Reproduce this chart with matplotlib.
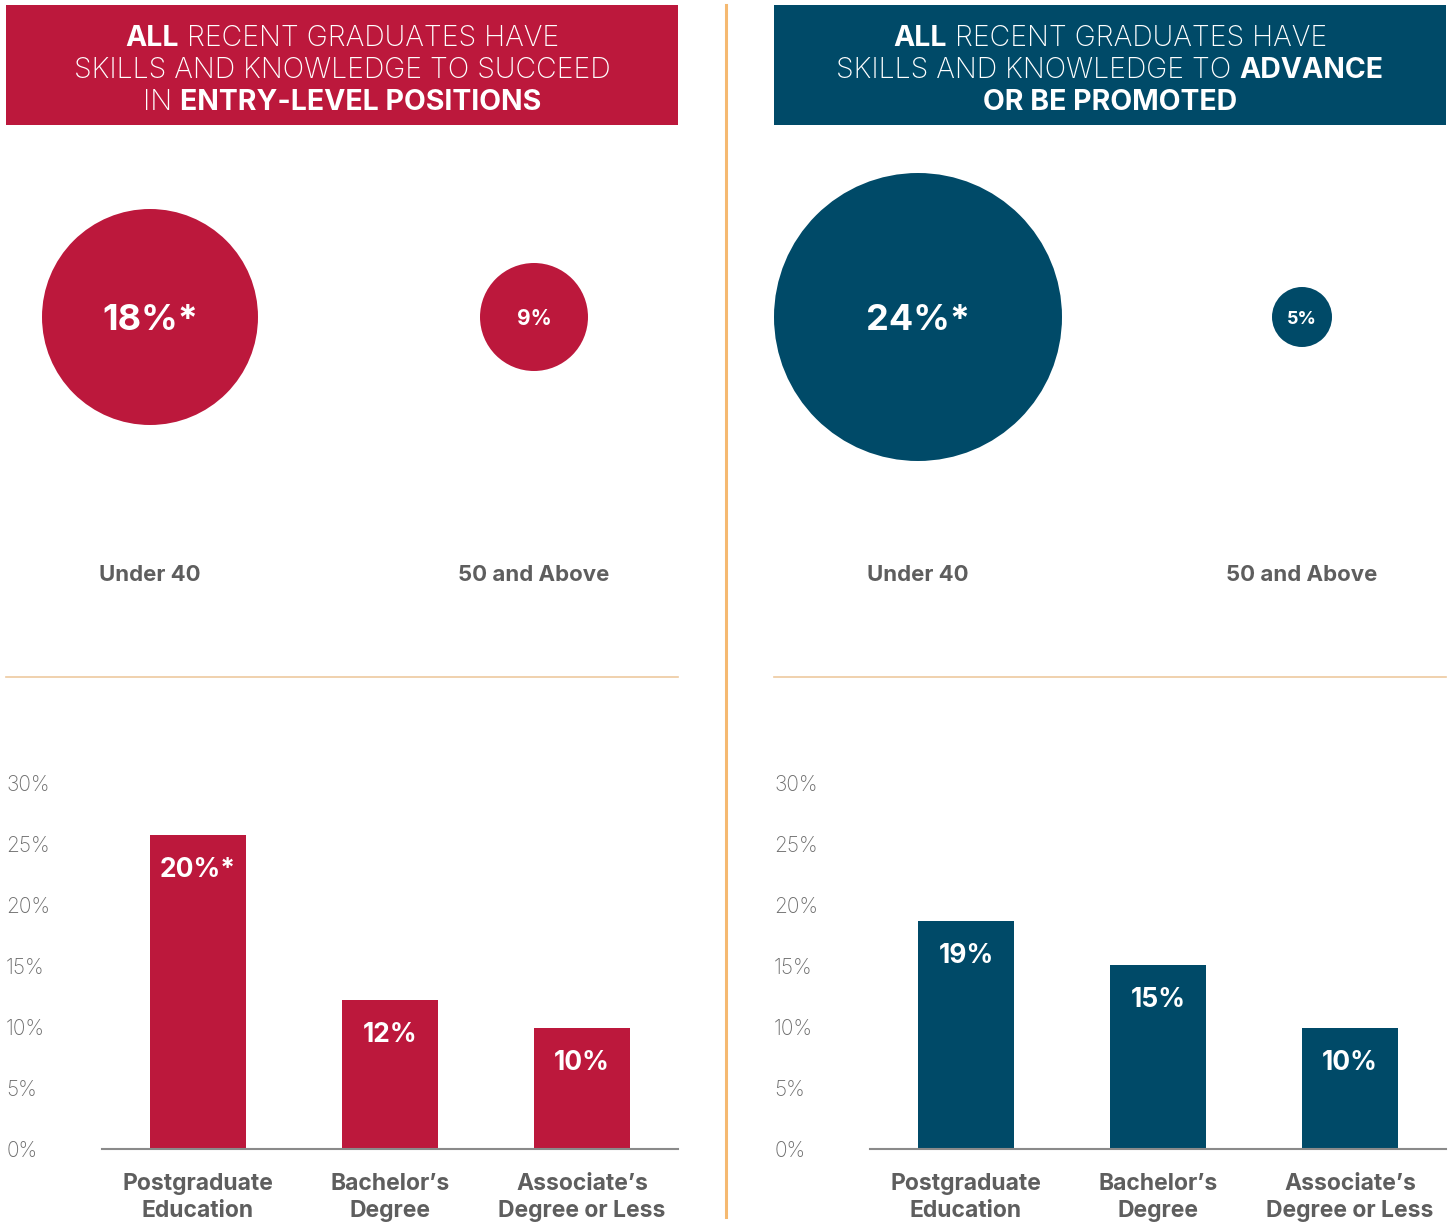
import matplotlib
matplotlib.use('Agg')
import matplotlib.pyplot as plt

# ---- data ----
age_groups = ['Under 40', '50 and Above']
entry_age = [18, 9]
entry_age_labels = ['18%*', '9%']
advance_age = [24, 5]
advance_age_labels = ['24%*', '5%']

education = ['Postgraduate\nEducation', 'Bachelor\u2019s\nDegree',
             'Associate\u2019s\nDegree or Less']
entry_edu = [25.7, 12.2, 9.9]
entry_edu_labels = ['20%*', '12%', '10%']
advance_edu = [18.7, 15.1, 9.9]
advance_edu_labels = ['19%', '15%', '10%']

yticks = [0, 5, 10, 15, 20, 25, 30]

RED = '#BC183C'
BLUE = '#004A68'
GREY = '#5E5E5E'
TICK_GREY = '#6E6E6E'
FAMILY = ['Inter', 'DejaVu Sans']

W, H = 1452, 1222
fig = plt.figure(figsize=(W / 100, H / 100), dpi=100)
fig.patch.set_facecolor('white')


def px_axes(x0, y0, x1, y1):
    """Axes placed by pixel box (top-left origin)."""
    return fig.add_axes([x0 / W, 1 - y1 / H, (x1 - x0) / W, (y1 - y0) / H])


def header_line(segments, xc, yc, size):
    # segments: list of (text, bold); drawn centred around xc (pixels)
    renderer = fig.canvas.get_renderer()
    texts = []
    for s, bold in segments:
        t = fig.text(0, 1 - yc / H, s, color='white', fontsize=size,
                     family=FAMILY, fontweight='bold' if bold else 'light',
                     ha='left', va='center_baseline')
        texts.append(t)
    widths = [t.get_window_extent(renderer).width for t in texts]
    x = xc - sum(widths) / 2
    for t, w in zip(texts, widths):
        t.set_x(x / W)
        x += w


def panel(x0, color, lines, circ_vals, circ_labels, bar_vals, bar_labels):
    x1 = x0 + 672
    # header box
    hax = px_axes(x0, 5, x1, 125)
    hax.set_facecolor(color)
    hax.set_xticks([])
    hax.set_yticks([])
    for sp in hax.spines.values():
        sp.set_visible(False)
    xc = (x0 + x1) / 2
    for i, segs in enumerate(lines):
        header_line(segs, xc, 36 + 32 * i, 20.5)

    # bubbles: radius 6 px per percentage point
    cax = px_axes(x0, 130, x1, 504)
    r_pt = [v * 6 * 0.72 for v in circ_vals]
    cax.scatter(range(len(circ_vals)), [0] * len(circ_vals),
                s=[(2 * r) ** 2 for r in r_pt], color=color, linewidths=0)
    cax.set_xlim(-144 / 384, 528 / 384)
    cax.set_ylim(-1, 1)
    for i, (v, lab) in enumerate(zip(circ_vals, circ_labels)):
        size = 26 if v > 15 else (15 if v > 6 else 13)
        cax.text(i, 0, lab, color='white', fontsize=size, fontweight='bold',
                 family=FAMILY, ha='center', va='center_baseline')
    cax.set_xticks(range(len(age_groups)))
    cax.set_xticklabels(age_groups, fontsize=16, fontweight='bold',
                        color=GREY, family=FAMILY)
    cax.tick_params(length=0, pad=44)
    cax.set_yticks([])
    for sp in cax.spines.values():
        sp.set_visible(False)

    # separator
    fig.add_artist(plt.Line2D([x0 / W, x1 / W], [1 - 677 / H] * 2,
                              color='#EDC9A0', lw=1.2))

    # bars
    bax = px_axes(x0 + 96, 783, x1, 1149)
    bax.bar(range(len(bar_vals)), bar_vals, width=0.5, color=color)
    bax.set_xlim(-0.5, len(bar_vals) - 0.5)
    bax.set_ylim(0, 30)
    for i, (v, lab) in enumerate(zip(bar_vals, bar_labels)):
        bax.annotate(lab, (i, v), xytext=(0, -23), textcoords='offset points',
                     color='white', fontsize=19, fontweight='bold',
                     family=FAMILY, ha='center', va='center_baseline')
    bax.set_yticks(yticks)
    bax.set_yticklabels(['%d%%' % t for t in yticks], fontsize=15,
                        color=TICK_GREY, family=FAMILY, fontweight='light',
                        ha='left')
    bax.tick_params(axis='y', length=0, pad=69)
    bax.set_xticks(range(len(education)))
    bax.set_xticklabels(education, fontsize=16.5, fontweight='bold',
                        color=GREY, family=FAMILY, linespacing=1.3)
    bax.tick_params(axis='x', length=0, pad=17)
    for k in ['top', 'right', 'left']:
        bax.spines[k].set_visible(False)
    bax.spines['bottom'].set_color('#8A8A8A')
    bax.spines['bottom'].set_linewidth(1.5)


panel(6, RED,
      [[('ALL', True), (' RECENT GRADUATES HAVE', False)],
       [('SKILLS AND KNOWLEDGE TO SUCCEED', False)],
       [('IN ', False), ('ENTRY-LEVEL POSITIONS', True)]],
      entry_age, entry_age_labels, entry_edu, entry_edu_labels)
panel(774, BLUE,
      [[('ALL', True), (' RECENT GRADUATES HAVE', False)],
       [('SKILLS AND KNOWLEDGE TO ', False), ('ADVANCE', True)],
       [('OR BE PROMOTED', True)]],
      advance_age, advance_age_labels, advance_edu, advance_edu_labels)

# vertical divider
fig.add_artist(plt.Line2D([726 / W] * 2, [1 - 5 / H, 1 - 1217 / H],
                          color='#F5B971', lw=2.2))

fig.savefig('out.png', dpi=100, facecolor='white')
